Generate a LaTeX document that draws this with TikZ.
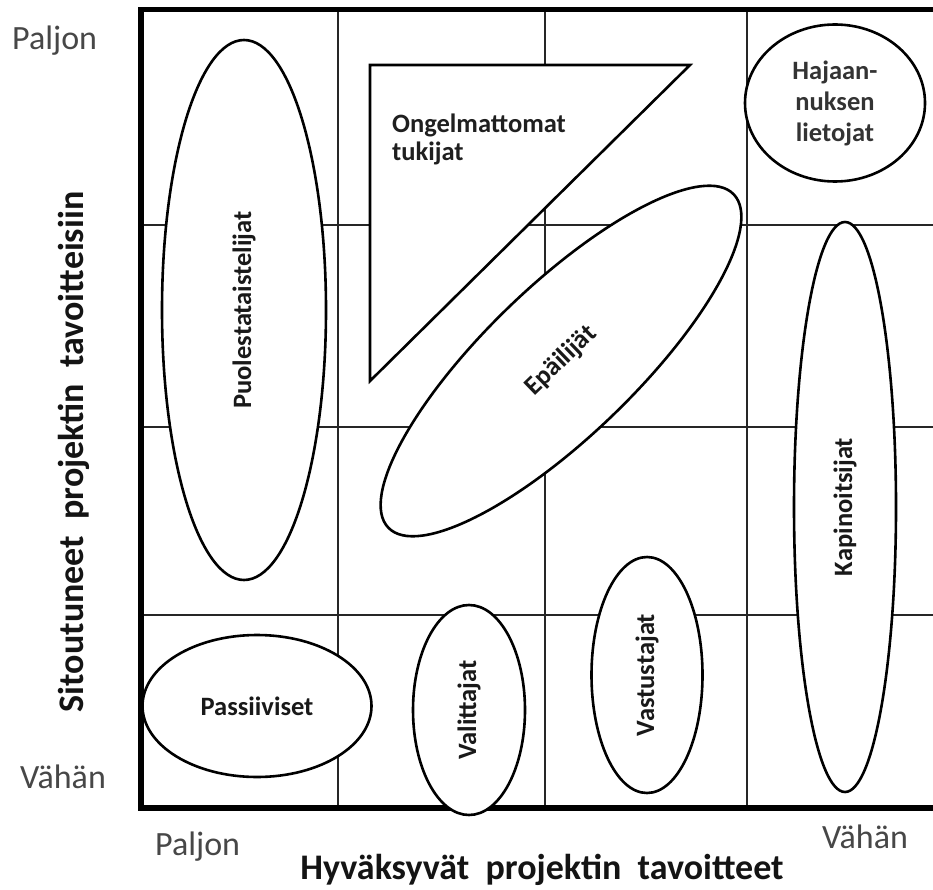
\documentclass[tikz,border=0pt]{standalone}
\usepackage{fontspec}
\setmainfont{Carlito}
\usetikzlibrary{shapes.geometric}
\begin{document}
\begin{tikzpicture}[x=1pt,y=-1pt,
  gridline/.style={line width=1.3pt, black!85},
  framebox/.style={line width=5.5pt, line join=miter},
  blob/.style={ellipse, draw, line width=2.6pt, fill=white, inner sep=0pt,
    font=\fontsize{26.5}{31}\selectfont\bfseries, text=black!90},
  tri/.style={draw, line width=2.6pt, fill=white, line join=miter},
  axlab/.style={inner sep=0pt, font=\fontsize{34}{40}\selectfont, text=black!72},
  axtitle/.style={inner sep=0pt, font=\fontsize{36}{40}\selectfont\bfseries, text=black!92}]
\useasboundingbox[fill=white] (0,0) rectangle (933,890);
% grid
\foreach \gx in {338,545,747} \draw[gridline] (\gx,9) -- (\gx,808);
\foreach \gy in {225,427,615} \draw[gridline] (141,\gy) -- (933,\gy);
% frame
\draw[framebox] (933,9.5) -- (141,9.5) -- (141,808) -- (933,808);
% triangle
\coordinate (t1) at (370,65);
\coordinate (t2) at (690,65);
\coordinate (t3) at (370,381);
\draw[tri] (t1) -- (t2) -- (t3) -- cycle;
\node[inner sep=0pt, anchor=north west, align=left,
  font=\fontsize{26.5}{28}\selectfont\bfseries, text=black!88] (onge) at (392,114) {Ongelmattomat\\tukijat};
% ellipses
\node[blob, rotate=90, minimum width=540pt, minimum height=164pt] (puol) at (244,310) {Puolestataistelijat};
\node[blob, minimum width=229pt, minimum height=142pt] (pass) at (257,706) {Passiiviset};
\node[blob, rotate=90, minimum width=210pt, minimum height=112pt] (vali) at (469,710) {Valittajat};
\node[blob, rotate=90, minimum width=236pt, minimum height=111pt] (vast) at (647,675) {Vastustajat};
\node[blob, rotate=90, minimum width=570pt, minimum height=102pt] (kapi) at (845,507) {Kapinoitsijat};
\node[blob, align=center, minimum width=180pt, minimum height=157pt, text=black!80] (haja) at (835,103) {Hajaan-\\nuksen\\lietojat};
\node[blob, rotate=44, minimum width=480pt, minimum height=150pt] (epai) at (561,361) {Epäilijät};
% axis labels
\node[axlab, anchor=base west] (pal1) at (12,50) {Paljon};
\node[axlab, anchor=base west] (vah1) at (20,788) {Vähän};
\node[axlab, anchor=base west] (pal2) at (155,855) {Paljon};
\node[axlab, anchor=base west] (vah2) at (822,848) {Vähän};
\node[axtitle, anchor=base] (xt) at (542,879) {Hyväksyvät\ \ projektin\ \ tavoitteet};
\node[axtitle, anchor=base, rotate=90] (yt) at (83,452) {Sitoutuneet\ \ projektin\ \ tavoitteisiin};
\end{tikzpicture}
\end{document}
